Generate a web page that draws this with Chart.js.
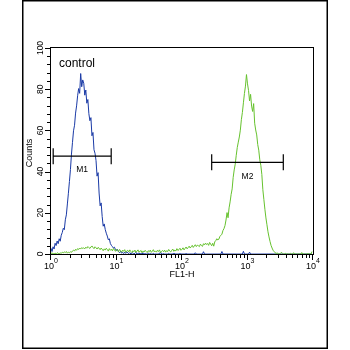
<!DOCTYPE html>
<html>
<head>
<meta charset="utf-8">
<title>FL1-H histogram</title>
<script src="https://cdn.jsdelivr.net/npm/chart.js@4/dist/chart.umd.min.js"></script>
<style>
  html, body { margin: 0; padding: 0; background: #fff; }
  #wrap { width: 350px; height: 350px; }
</style>
</head>
<body>
<div id="wrap"><canvas id="histo" width="350" height="350"></canvas></div>
<script>
// 256 channels spread over 4 log decades (64 channels per decade)
var CHANNELS_PER_DECADE = 64;

// control sample (blue)
var blueCounts = [
  2.8, 1.2, 3.5, 2.4, 5.2, 4.1, 6.3, 5.0, 7.4, 6.2, 9.1, 10.4, 12.5, 11.8, 16.6, 19.0,
  24.3, 29.5, 35.2, 41.0, 48.5, 54.2, 59.8, 62.5, 68.4, 71.9, 76.8, 80.3, 78.0, 87.6, 81.2, 84.5,
  82.9, 77.1, 79.6, 73.2, 75.0, 68.1, 64.7, 66.2, 57.4, 59.0, 50.6, 48.9, 45.3, 37.8, 39.5, 29.6,
  23.4, 24.8, 18.2, 13.5, 14.6, 11.9, 10.1, 8.7, 6.9, 7.4, 5.1, 4.2, 3.6, 2.9, 3.3, 2.1,
  1.7, 2.2, 1.1, 0.6, 1.3, 0.4, 0.8, 0.2, 0.9, 0.3, 1.1, 0.5, 0.2, 0.7, 0, 0.4,
  0.6, 0.1, 0.3, 0.8, 0, 0.2, 0.5, 0, 0.3, 0, 0.6, 0, 0.2, 0, 0, 0.4,
  0, 0.2, 0, 0, 0.3, 0, 0, 0, 0, 0.1, 0, 1.0, 0, 0, 0.2, 0,
  0, 0, 0, 0.3, 0, 0, 0, 0, 0.5, 0, 0, 0, 0, 0, 0.2, 0,
  0, 0, 0, 0, 0.2, 0, 0, 0, 0, 0, 0, 0, 0, 0.6, 0, 0,
  0, 0, 0, 0, 0, 1.1, 0, 0, 0, 0, 0, 0, 0, 0, 0, 0,
  0, 0, 0, 0, 0, 0, 0, 1.2, 0, 0, 0, 0, 0, 0, 0, 0,
  0, 0, 0, 0, 0, 0, 0, 0, 0, 0, 0, 0, 1.3, 0, 0, 0,
  0, 0, 0.9, 0, 0, 0, 0, 0, 0, 0, 0, 0, 0, 0, 0, 0,
  0, 0, 0, 0, 0, 0, 0, 0, 0, 0, 0, 0, 0, 0, 0, 0,
  0, 0, 0, 0, 0, 0, 0, 0, 0, 0, 0, 0, 0, 0, 0, 0,
  0, 0, 0, 0, 0, 0, 0, 0, 0, 0, 0, 0, 0, 0, 0, 0
];

// stained sample (green)
var greenCounts = [
  0.3, 0.5, 0.2, 0, 0.4, 0.1, 0.6, 0.3, 0.2, 0.5, 0.4, 0.8, 0.6, 1.0, 0.7, 1.2,
  0.4, 0.9, 0.6, 1.1, 0.8, 1.5, 1.9, 1.4, 2.3, 1.8, 2.6, 2.2, 2.9, 2.4, 3.1, 2.7,
  3.0, 2.5, 3.3, 2.8, 3.6, 3.1, 2.7, 3.4, 3.9, 3.2, 2.6, 3.5, 3.0, 2.4, 3.2, 2.8,
  2.1, 2.9, 2.3, 1.6, 2.5, 1.9, 2.8, 2.2, 1.4, 2.6, 1.8, 2.3, 1.5, 2.7, 2.0, 1.3,
  2.4, 1.7, 1.1, 2.2, 1.6, 0.9, 1.9, 1.3, 2.1, 0.8, 1.5, 1.8, 1.0, 2.0, 1.2, 0.7,
  1.6, 1.1, 1.9, 0.8, 1.4, 2.0, 0.9, 1.3, 1.7, 0.6, 1.5, 1.0, 1.8, 1.2, 0.7, 1.6,
  1.1, 1.9, 0.8, 1.4, 2.1, 1.0, 1.5, 0.9, 1.8, 1.2, 2.0, 0.7, 1.3, 1.7, 1.1, 1.9,
  0.9, 1.6, 1.2, 2.2, 1.4, 1.0, 1.8, 2.4, 1.3, 1.9, 1.5, 2.6, 1.7, 2.1, 2.8, 1.8,
  2.3, 3.0, 2.0, 2.7, 3.4, 2.5, 3.1, 3.8, 2.9, 3.5, 4.2, 3.2, 3.9, 4.5, 3.6, 4.3,
  4.0, 3.6, 4.8, 4.1, 3.7, 5.0, 4.4, 5.3, 4.6, 5.1, 4.2, 5.6, 4.8, 4.0, 5.2, 3.8,
  5.9, 6.5, 7.4, 6.8, 7.2, 8.5, 9.1, 9.6, 11.4, 12.3, 13.8, 16.5, 20.1, 17.6, 22.4, 25.3,
  28.9, 31.6, 37.2, 40.8, 43.6, 47.9, 51.7, 54.3, 56.8, 60.1, 65.2, 68.7, 73.4, 77.9, 81.5, 87.1,
  82.6, 79.4, 74.3, 77.5, 71.8, 69.2, 73.0, 63.5, 60.2, 57.8, 53.1, 50.4, 45.7, 43.1, 38.6, 31.2,
  26.4, 21.7, 17.5, 14.2, 10.8, 8.3, 6.1, 4.2, 2.9, 1.8, 1.2, 0.6, 0.3, 0.5, 0.1, 0,
  0.2, 0.8, 0.4, 0, 0, 0.3, 0, 0.1, 0, 0, 0.3, 0, 0, 0.6, 0.2, 0,
  0, 0, 0.1, 0, 0, 0.7, 0, 0, 0, 0, 0, 0.2, 0, 0, 0, 1.2
];

// axis ticks
var yTicks = [0, 20, 40, 60, 80, 100];
var xDecades = [0, 1, 2, 3, 4];

// gate markers
var markerNames = ['M1', 'M2'];
var markerStart = [1.08, 284];
var markerEnd = [8.3, 3520];
var markerLevel = [47.5, 44.5];

var FONT = '"Liberation Sans", Arial, sans-serif';

function toPoints(counts) {
  return counts.map(function (c, i) {
    return { x: Math.pow(10, i / CHANNELS_PER_DECADE), y: c };
  });
}

var facsDecor = {
  id: 'facsDecor',
  beforeDraw: function (chart) {
    var ctx = chart.ctx;
    ctx.save();
    ctx.fillStyle = '#fff';
    ctx.fillRect(0, 0, chart.width, chart.height);
    // outer frame
    ctx.strokeStyle = '#000';
    ctx.lineWidth = 1.5;
    ctx.strokeRect(22.75, 0.75, 304.5, 347.5);
    ctx.restore();
  },
  beforeDatasetsDraw: function (chart) {
    var ctx = chart.ctx;
    var a = chart.chartArea;
    ctx.save();
    ctx.strokeStyle = '#000';
    ctx.lineWidth = 1;
    ctx.strokeRect(a.left - 0.5, a.top - 0.5, a.right - a.left + 1, a.bottom - a.top + 1);
    ctx.restore();
  },
  afterDatasetsDraw: function (chart) {
    var ctx = chart.ctx;
    var a = chart.chartArea;
    var xs = chart.scales.x;
    var ys = chart.scales.y;
    ctx.save();
    ctx.strokeStyle = '#000';
    ctx.fillStyle = '#000';
    ctx.lineWidth = 1;

    // y ticks every 4 counts, long ones at the labels
    for (var v = 0; v <= 100; v += 4) {
      var py = Math.round(ys.getPixelForValue(v)) + 0.5;
      var len = (v % 20 === 0) ? 5 : 3;
      ctx.beginPath();
      ctx.moveTo(a.left - 1, py);
      ctx.lineTo(a.left - 1 - len, py);
      ctx.stroke();
    }
    // x ticks, log minors
    xDecades.forEach(function (d) {
      var steps = d < 4 ? [1, 2, 3, 4, 5, 6, 7, 8, 9] : [1];
      steps.forEach(function (k) {
        var px = Math.round(xs.getPixelForValue(k * Math.pow(10, d))) - 0.5;
        var len = k === 1 ? 5 : 3;
        ctx.beginPath();
        ctx.moveTo(px, a.bottom + 1);
        ctx.lineTo(px, a.bottom + 1 + len);
        ctx.stroke();
      });
    });

    // y tick labels, rotated
    ctx.font = '8.5px ' + FONT;
    ctx.textAlign = 'center';
    ctx.textBaseline = 'middle';
    yTicks.forEach(function (t) {
      var py = ys.getPixelForValue(t);
      ctx.save();
      ctx.translate(41, py);
      ctx.rotate(-Math.PI / 2);
      ctx.fillText(String(t), 0, 0);
      ctx.restore();
    });

    // x tick labels: 10 with superscript exponent
    xDecades.forEach(function (d) {
      var px = xs.getPixelForValue(Math.pow(10, d));
      ctx.font = '9px ' + FONT;
      var wBase = ctx.measureText('10').width;
      ctx.font = '7px ' + FONT;
      var wExp = ctx.measureText(String(d)).width;
      var x0 = px - (wBase + wExp) / 2;
      ctx.textAlign = 'left';
      ctx.textBaseline = 'alphabetic';
      ctx.font = '9px ' + FONT;
      ctx.fillText('10', x0, 268.5);
      ctx.font = '7px ' + FONT;
      ctx.fillText(String(d), x0 + wBase, 263);
    });

    // axis titles
    ctx.font = '9px ' + FONT;
    ctx.textAlign = 'center';
    ctx.textBaseline = 'middle';
    ctx.fillText('FL1-H', (a.left + a.right) / 2, 275);
    ctx.save();
    ctx.translate(30, 153);
    ctx.rotate(-Math.PI / 2);
    ctx.fillText('Counts', 0, 0);
    ctx.restore();

    // sample name
    ctx.font = '12px ' + FONT;
    ctx.textAlign = 'left';
    ctx.textBaseline = 'alphabetic';
    ctx.fillText('control', 59, 66.5);

    // gate markers
    ctx.lineWidth = 1.2;
    markerNames.forEach(function (name, i) {
      var x1 = xs.getPixelForValue(markerStart[i]);
      var x2 = xs.getPixelForValue(markerEnd[i]);
      var y = ys.getPixelForValue(markerLevel[i]);
      ctx.beginPath();
      ctx.moveTo(x1, y);
      ctx.lineTo(x2, y);
      ctx.moveTo(x1, y - 8);
      ctx.lineTo(x1, y + 8);
      ctx.moveTo(x2, y - 8);
      ctx.lineTo(x2, y + 8);
      ctx.stroke();
      ctx.font = '8.5px ' + FONT;
      ctx.textAlign = 'center';
      ctx.textBaseline = 'middle';
      ctx.fillText(name, (x1 + x2) / 2, y + 14);
    });

    ctx.restore();
  }
};

new Chart(document.getElementById('histo'), {
  type: 'line',
  data: {
    datasets: [
      {
        label: 'stained',
        data: toPoints(greenCounts),
        borderColor: '#66c22e',
        borderWidth: 1,
        pointRadius: 0,
        tension: 0,
        fill: false
      },
      {
        label: 'control',
        data: toPoints(blueCounts),
        borderColor: '#1a3aa6',
        borderWidth: 1,
        pointRadius: 0,
        tension: 0,
        fill: false
      }
    ]
  },
  options: {
    responsive: false,
    animation: false,
    layout: { padding: { left: 51, right: 37, top: 48, bottom: 96 } },
    plugins: {
      legend: { display: false },
      tooltip: { enabled: false }
    },
    scales: {
      x: { type: 'logarithmic', min: 1, max: 10000, display: false },
      y: { type: 'linear', min: 0, max: 100, display: false }
    }
  },
  plugins: [facsDecor]
});
</script>
</body>
</html>
